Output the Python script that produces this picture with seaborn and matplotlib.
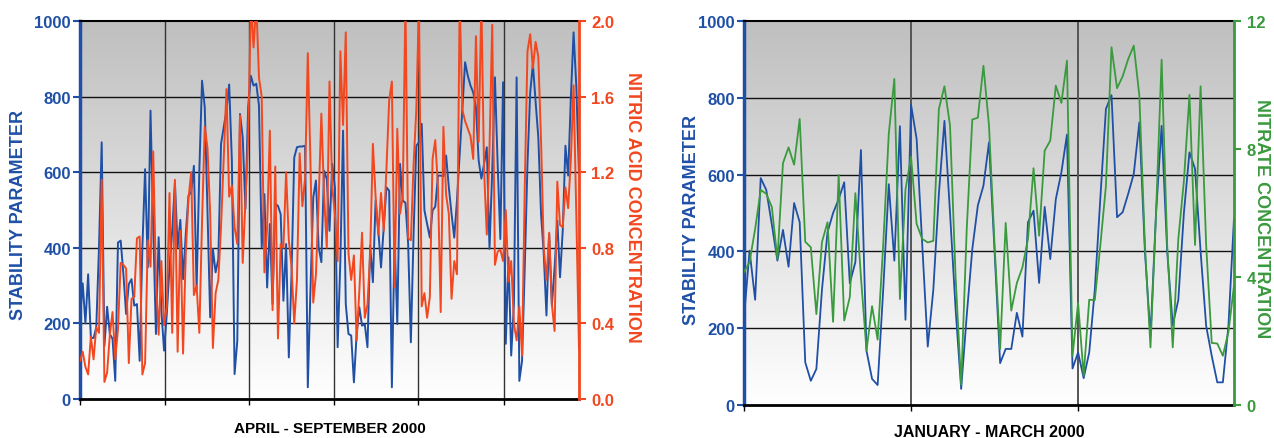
import numpy as np
import pandas as pd
import matplotlib
matplotlib.use("Agg")
import matplotlib.pyplot as plt
import seaborn as sns
from matplotlib.colors import LinearSegmentedColormap
from matplotlib.ticker import FormatStrFormatter

# ---------------- data ----------------
# Left panel: April - September 2000
stability_apr_sep = [
    212, 306, 200, 330, 163, 161, 190, 400, 679, 140, 244, 172, 159, 48, 414, 419, 331, 225, 304, 317,
    247, 251, 101, 401, 608, 348, 763, 454, 172, 428, 234, 128, 225, 348, 445, 573, 401, 474, 317, 436,
    538, 547, 617, 291, 604, 842,
    772, 500, 216, 397, 335, 370, 675, 719, 763, 832, 631, 66, 154, 754, 692, 503, 772, 855, 829, 834,
    776, 401, 542, 295, 463, 251, 516, 511, 489, 260, 410, 110, 331, 639, 666, 668, 668, 670, 31, 295,
    533, 578, 401, 362, 604,
    582, 445, 622, 560, 137, 366, 710, 251, 172, 168, 44, 172, 243, 194, 198, 137, 406, 309, 525, 445,
    348, 454, 560, 551, 31, 427, 198, 622, 525, 519, 410, 150, 436, 670, 679, 728, 499, 463, 427, 499,
    509, 591, 591, 589, 644, 560, 490, 427,
    525, 648, 772, 891, 855, 829, 811, 772, 631, 583, 622, 666, 397, 604, 851, 622, 423, 838, 146, 375,
    115, 251, 851, 48, 101, 348, 622, 811, 886, 786, 692, 490, 384, 221, 436, 247, 348, 472, 322, 445,
    670, 591, 798, 970, 829, 595,
]
nitric_acid_apr_sep = [
    0.20, 0.25, 0.17, 0.13, 0.33, 0.21, 0.38, 0.35, 1.16, 0.09, 0.14, 0.34, 0.46, 0.21, 0.37, 0.72, 0.71, 0.69, 0.19, 0.53,
    0.54, 0.85, 0.86, 0.13, 0.19, 0.84, 0.70, 1.31, 0.63, 0.34, 0.73, 0.39, 0.49, 1.09, 0.35, 1.16, 0.25, 0.89, 0.24, 0.77,
    1.06, 1.20, 0.55, 0.60, 0.35, 0.94, 1.44,
    1.33, 0.98, 0.27, 0.56, 0.63, 0.91, 1.28, 1.64, 1.07, 1.13, 0.91, 0.82, 1.50, 0.72, 1.04, 1.37, 2.10, 1.86, 2.10, 1.70,
    1.60, 0.67, 0.91, 1.42, 0.47, 1.23, 0.32, 0.82, 0.80, 1.20, 0.84, 0.70, 0.40, 0.63, 1.30, 1.02, 1.17, 1.83, 1.24, 0.51,
    0.66, 1.05, 1.51, 1.08, 0.80, 1.68,
    1.12, 0.98, 0.73, 1.84, 1.45, 1.94, 0.77, 0.63, 0.76, 0.31, 0.57, 0.88, 0.43, 0.50, 0.77, 1.35, 1.07, 0.87, 1.09, 0.89,
    1.22, 1.58, 1.68, 0.59, 1.43, 0.98, 1.07, 2.10, 0.85, 0.84, 1.24, 1.53, 2.10, 0.49, 0.56, 0.43, 0.54, 1.27, 1.37, 1.12,
    0.46, 1.44, 1.08, 0.98, 0.53,
    0.73, 0.66, 2.10, 1.53, 1.47, 1.43, 1.39, 1.27, 1.92, 1.36, 2.10, 1.21, 0.87, 1.33, 1.98, 0.71, 0.78, 0.79, 0.73, 1.00,
    0.62, 0.73, 0.40, 0.31, 0.49, 0.23, 1.12, 1.84, 1.93, 1.75, 1.89, 1.81, 1.37, 0.80, 0.63, 0.88, 0.50, 0.36, 1.15, 0.92,
    0.91, 1.12, 1.01, 1.27, 1.66, 0.98, 0.26,
]
# Right panel: January - March 2000
stability_jan_mar = [
    228, 402, 274, 591, 560, 470, 376, 456, 360, 526, 476, 111, 63, 94, 300, 450, 500, 536, 580, 317,
    372, 664, 141, 68, 52, 300, 575, 376, 726, 222, 782, 693, 420, 152, 300, 550, 740, 500, 250,
    42, 233, 406, 520, 571, 684, 400, 109, 146, 146, 240, 178, 476, 506, 318, 516, 380, 536, 606, 704,
    95, 137, 70, 137, 300, 540, 771, 807, 489, 502, 550, 602, 736, 400, 180, 500, 727, 400, 208, 274,
    500, 658, 615, 400, 206, 128, 59, 59, 206, 487,
]
nitrate_jan_mar = [
    4.15, 4.47, 5.5, 6.72, 6.6, 6.19, 4.56, 7.56, 8.05, 7.51, 8.94, 5.1, 4.93, 2.84, 5.09, 5.71, 2.6, 7.19, 2.64, 3.37,
    6.62, 4.0, 1.7, 3.09, 2.04, 5.0, 8.47, 10.19, 3.31, 6.73, 7.76, 5.66, 5.19, 5.08, 5.13, 9.25, 9.96, 8.73, 4.0,
    0.63, 5.5, 8.92, 8.98, 10.6, 8.73, 5.0, 1.75, 5.69, 2.95, 3.81, 4.3, 5.19, 7.4, 5.29, 7.95, 8.26, 9.98, 9.44, 10.76,
    1.54, 3.19, 0.92, 3.29, 3.28, 5.0, 6.85, 11.18, 9.9, 10.27, 10.81, 11.23, 9.67, 5.0, 1.8, 6.0, 10.79, 5.0, 1.8, 5.19,
    7.0, 9.69, 5.0, 9.96, 5.0, 1.94, 1.92, 1.54, 2.28, 3.73,
]
left_month_ticks = [0, 30.5, 61, 91.5, 122, 153]   # month boundaries (days)
left_span_days = 180
right_month_ticks = [0, 30, 60]
right_span_days = 88

xlabel_left = "APRIL - SEPTEMBER 2000"
xlabel_right = "JANUARY - MARCH 2000"
ylabel_stab = "STABILITY PARAMETER"
ylabel_nitric = "NITRIC ACID CONCENTRATION"
ylabel_nitrate = "NITRATE CONCENTRATION"

# ---------------- style ----------------
sns.set_theme(style="white")
plt.rcParams["font.family"] = ["Liberation Sans", "DejaVu Sans"]
plt.rcParams["font.weight"] = "bold"
plt.rcParams["axes.labelweight"] = "bold"

BLUE = "#1f50a6"
RED = "#f2471f"
GREEN = "#3a9a3e"
NARROW = ["Liberation Sans Narrow", "Liberation Sans", "DejaVu Sans"]

fig = plt.figure(figsize=(12.74, 4.39), dpi=100)
ax_l = fig.add_axes([80 / 1274, 1 - 400 / 439, 499 / 1274, 378 / 439])
ax_r = fig.add_axes([744 / 1274, 1 - 406 / 439, 490 / 1274, 384 / 439])

bg_cmap = LinearSegmentedColormap.from_list("bg", ["#ffffff", "#bfbfbf"])
grad = np.linspace(0, 1, 256).reshape(-1, 1)


def style_panel(ax, ax2, span, ticks, sec_color, sec_lim, sec_ticks, narrow):
    ax.imshow(grad, aspect="auto", cmap=bg_cmap, extent=[0, 1, 0, 1],
              transform=ax.transAxes, origin="lower", zorder=0)
    ax.set_facecolor("none")
    ax.set_xlim(0, span)
    ax.set_ylim(0, 1000)
    ax.set_yticks(range(0, 1001, 200))
    ax.set_xticks(ticks)
    ax.grid(False)
    for yv in range(200, 1000, 200):
        ax.axhline(yv, color="#111111", lw=1.0, zorder=1)
    for xv in ticks[1:]:
        ax.axvline(xv, color="#333333" if not narrow else "#555555",
                   lw=1.0 if not narrow else 1.4, zorder=1)
    ax.tick_params(axis="x", which="both", bottom=True, length=4, width=1,
                   color="black", labelbottom=False, direction="out")
    ax.tick_params(axis="y", left=True, length=5, width=1.5, color=BLUE,
                   labelcolor=BLUE, labelsize=12, pad=1.5, direction="out")
    if narrow:
        ax.tick_params(axis="y", labelfontfamily=NARROW)
    ax.spines["left"].set_color(BLUE)
    ax.spines["left"].set_linewidth(2.5)
    ax.spines["bottom"].set_color("black")
    ax.spines["bottom"].set_linewidth(2.0)
    ax.spines["top"].set_color("black")
    ax.spines["top"].set_linewidth(1.5)
    ax.spines["right"].set_visible(False)

    ax2.set_ylim(*sec_lim)
    ax2.set_yticks(sec_ticks)
    ax2.set_xlim(0, span)
    ax2.grid(False)
    for s in ("left", "top", "bottom"):
        ax2.spines[s].set_visible(False)
    ax2.spines["right"].set_color(sec_color)
    ax2.spines["right"].set_linewidth(2.0)
    ax2.tick_params(axis="y", right=True, length=5, width=1.5, color=sec_color,
                    labelcolor=sec_color, labelsize=12, pad=4, direction="out")
    if narrow:
        ax2.tick_params(axis="y", labelfontfamily=NARROW)


# ---------------- left panel ----------------
df_l1 = pd.DataFrame({"day": np.linspace(0, left_span_days, len(stability_apr_sep)),
                      "stability": stability_apr_sep})
df_l2 = pd.DataFrame({"day": np.linspace(0, left_span_days, len(nitric_acid_apr_sep)),
                      "nitric": nitric_acid_apr_sep})
ax_l2 = ax_l.twinx()
sns.lineplot(data=df_l1, x="day", y="stability", ax=ax_l, color=BLUE, lw=1.4,
             legend=False, sort=False, zorder=3)
sns.lineplot(data=df_l2, x="day", y="nitric", ax=ax_l2, color=RED, lw=1.4,
             legend=False, sort=False, zorder=3)
style_panel(ax_l, ax_l2, left_span_days, left_month_ticks, RED, (0, 2.0),
            np.arange(0, 2.01, 0.4), narrow=False)
ax_l2.yaxis.set_major_formatter(FormatStrFormatter("%.1f"))

ax_l.set_xlabel(xlabel_left, fontsize=11, color="black", fontweight="bold")
ax_l.xaxis.set_label_coords(0.5, -0.077)
ax_l.xaxis.label.set_va("center")
ax_l.set_ylabel(ylabel_stab, fontsize=13, color=BLUE, fontweight="bold", va="center")
ax_l.yaxis.set_label_coords(-0.123, 0.49)
ax_l2.set_ylabel(ylabel_nitric, fontsize=13, color=RED, fontweight="bold",
                 rotation=270, va="center")
ax_l2.yaxis.set_label_coords(1.108, 0.509)

# ---------------- right panel ----------------
df_r1 = pd.DataFrame({"day": np.linspace(0, right_span_days, len(stability_jan_mar)),
                      "stability": stability_jan_mar})
df_r2 = pd.DataFrame({"day": np.linspace(0, right_span_days, len(nitrate_jan_mar)),
                      "nitrate": nitrate_jan_mar})
ax_r2 = ax_r.twinx()
sns.lineplot(data=df_r1, x="day", y="stability", ax=ax_r, color=BLUE, lw=1.3,
             legend=False, sort=False, zorder=3)
sns.lineplot(data=df_r2, x="day", y="nitrate", ax=ax_r2, color=GREEN, lw=1.3,
             legend=False, sort=False, zorder=3)
style_panel(ax_r, ax_r2, right_span_days, right_month_ticks, GREEN, (0, 12),
            [0, 4, 8, 12], narrow=True)

ax_r.set_xlabel(xlabel_right, fontsize=11.5, color="black", fontweight="bold",
                family=NARROW)
ax_r.xaxis.set_label_coords(0.5, -0.070)
ax_r.xaxis.label.set_va("center")
ax_r.set_ylabel(ylabel_stab, fontsize=13, color=BLUE, fontweight="bold", va="center")
ax_r.yaxis.set_label_coords(-0.108, 0.484)
ax_r2.set_ylabel(ylabel_nitrate, fontsize=13, color=GREEN, fontweight="bold",
                 rotation=270, va="center")
ax_r2.yaxis.set_label_coords(1.057, 0.487)

fig.savefig("out.png", dpi=100, facecolor="white")
